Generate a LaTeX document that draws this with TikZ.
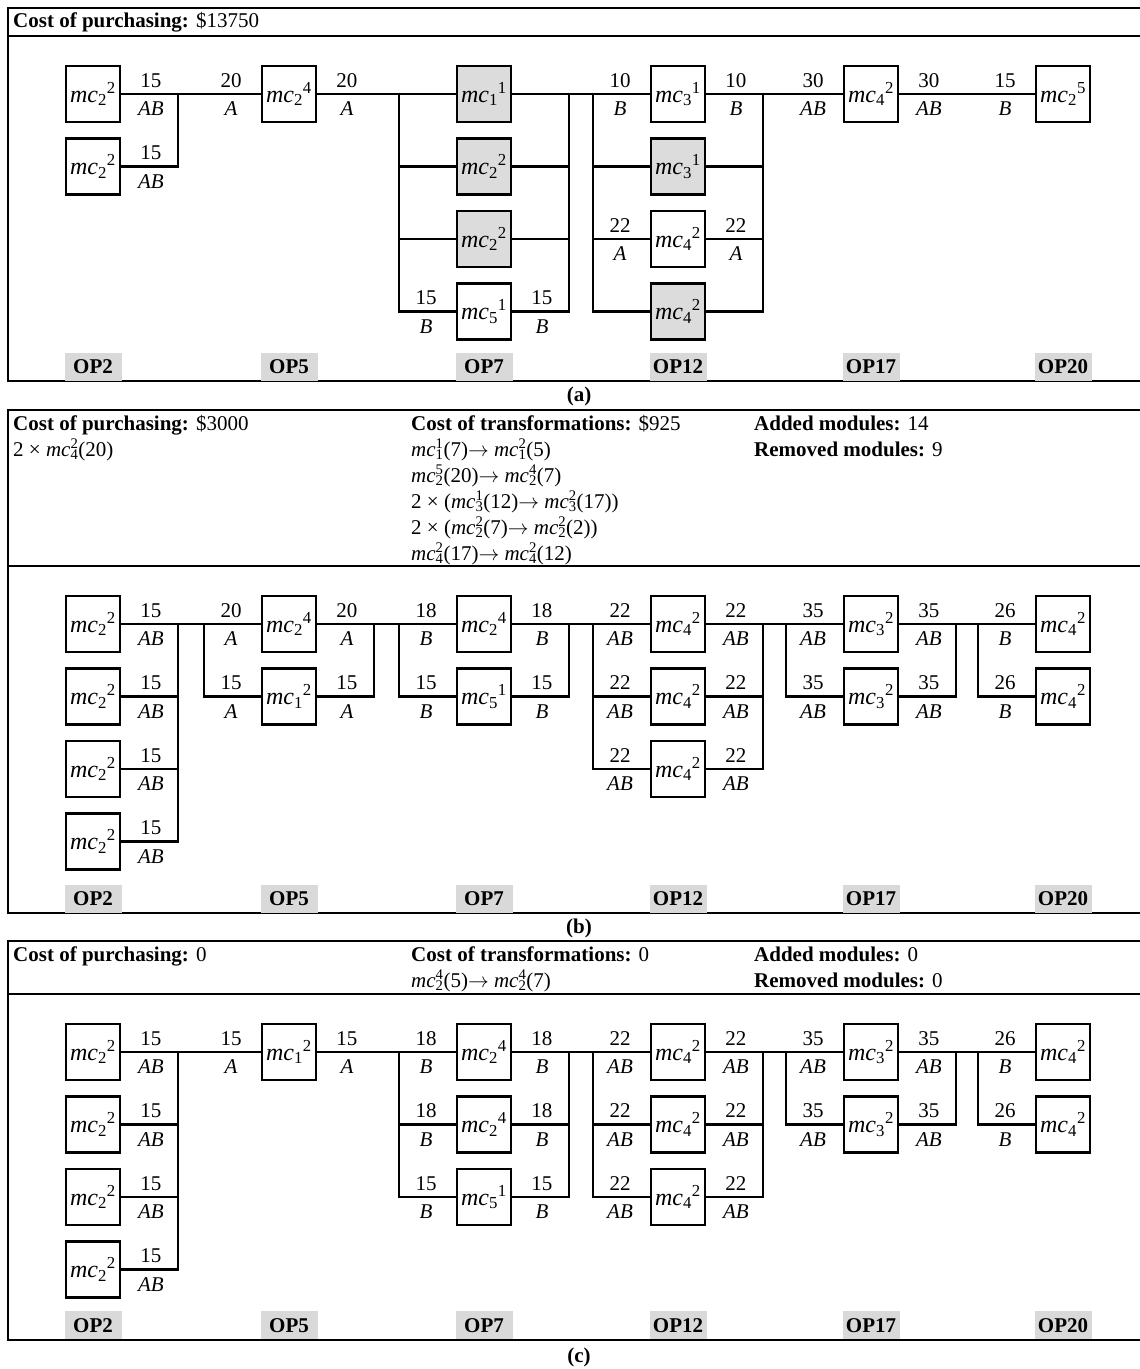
\documentclass[tikz,border=0pt]{standalone}
\usepackage{fontspec}
\setmainfont{Liberation Serif}
\usetikzlibrary{positioning}
\definecolor{changedgray}{RGB}{220,220,220}
\definecolor{opgray}{RGB}{217,217,217}
\newcommand{\txt}{\fontsize{21}{24}\selectfont}
\newcommand{\mc}[2]{\textit{mc}\textsubscript{#1}\textsuperscript{#2}}
\newcommand{\mcs}[2]{\textit{mc}\textsubscript{#1}\llap{\textsuperscript{#2}}}
\newcommand{\tto}{$\rightarrow$}
\tikzset{
  module/.style    = {draw, line width=2.9pt, fill=white, inner sep=0pt,
                      minimum width=54pt, minimum height=56pt,
                      font=\fontsize{24}{26}\selectfont},
  replaced/.style  = {module, fill=changedgray},
  wire/.style      = {line width=2.3pt},
  panelline/.style = {line width=2pt},
  oplab/.style     = {fill=opgray, anchor=south, inner sep=0pt,
                      minimum width=57pt, minimum height=28pt, font=\txt\bfseries},
  lab/.style       = {anchor=base, inner sep=0pt, font=\txt},
  lin/.style 2 args  = {label={[lab, xshift=-29.5pt, yshift=7pt]west:#1},
                        label={[lab, xshift=-29.5pt, yshift=-21.5pt]west:\textit{#2}}},
  rout/.style 2 args = {label={[lab, xshift=29.5pt, yshift=7pt]east:#1},
                        label={[lab, xshift=29.5pt, yshift=-21.5pt]east:\textit{#2}}},
  head/.style      = {anchor=base west, inner sep=0pt},
  panelcap/.style  = {font=\txt\bfseries, inner sep=0pt},
}

\begin{document}
\begin{tikzpicture}[x=1pt, y=-1pt, font=\txt]
  \useasboundingbox (0,0) rectangle (1140,1369);

  % (a) current configuration
  \draw[panelline] (8,7.5) rectangle (1160,381);
  \draw[panelline] (8,35.5) -- (1160,35.5);
  \node[head] (aBuy) at (13,27.5) {\textbf{Cost of purchasing:} \$13750};

  \node[module, rout={15}{AB}] (a2r1) at (93,94) {\mc{2}{2}};
  \node[module, rout={15}{AB}] (a2r2) at (93,166.5) {\mc{2}{2}};
  \node[module, lin={20}{A}, rout={20}{A}] (a5r1) at (289,94) {\mc{2}{4}};
  \node[replaced] (a7r1) at (484,94) {\mc{1}{1}};
  \node[replaced] (a7r2) at (484,166.5) {\mc{2}{2}};
  \node[replaced] (a7r3) at (484,239) {\mc{2}{2}};
  \node[module, lin={15}{B}, rout={15}{B}] (a7r4) at (484,311.5) {\mc{5}{1}};
  \node[module, lin={10}{B}, rout={10}{B}] (a12r1) at (678,94) {\mc{3}{1}};
  \node[replaced] (a12r2) at (678,166.5) {\mc{3}{1}};
  \node[module, lin={22}{A}, rout={22}{A}] (a12r3) at (678,239) {\mc{4}{2}};
  \node[replaced] (a12r4) at (678,311.5) {\mc{4}{2}};
  \node[module, lin={30}{AB}, rout={30}{AB}] (a17r1) at (871,94) {\mc{4}{2}};
  \node[module, lin={15}{B}] (a20r1) at (1063,94) {\mc{2}{5}};

  \coordinate (a2R) at (178,94);
  \coordinate (a7L) at (399,94);
  \coordinate (a7R) at (569,94);
  \coordinate (a12L) at (593,94);
  \coordinate (a12R) at (763,94);
  \draw[wire] (a2r1) -- (a5r1) -- (a7r1) -- (a12r1) -- (a17r1) -- (a20r1);
  \draw[wire] (a2r2) -| (a2R);
  \draw[wire] (a7L) |- (a7r4) -| (a7R);
  \draw[wire] (a7r2 -| a7L) -- (a7r2) -- (a7r2 -| a7R);
  \draw[wire] (a7r3 -| a7L) -- (a7r3) -- (a7r3 -| a7R);
  \draw[wire] (a12L) |- (a12r4) -| (a12R);
  \draw[wire] (a12r2 -| a12L) -- (a12r2) -- (a12r2 -| a12R);
  \draw[wire] (a12r3 -| a12L) -- (a12r3) -- (a12r3 -| a12R);

  \node[oplab] (aOP2) at (93,381) {OP2};
  \node[oplab] (aOP5) at (289,381) {OP5};
  \node[oplab] (aOP7) at (484,381) {OP7};
  \node[oplab] (aOP12) at (678,381) {OP12};
  \node[oplab] (aOP17) at (871,381) {OP17};
  \node[oplab] (aOP20) at (1063,381) {OP20};
  \node[panelcap] (capA) at (579,396) {(a)};

  % (b) reconfiguration
  \draw[panelline] (8,410) rectangle (1160,913);
  \draw[panelline] (8,565.5) -- (1160,565.5);
  \node[head] (bBuy) at (13,430) {\textbf{Cost of purchasing:} \$3000};
  \node[head] (bBuy1) at (13,456) {2 × \mcs{4}{2}(20)};
  \node[head] (bTr) at (411,430) {\textbf{Cost of transformations:} \$925};
  \node[head] (bTr1) at (411,456) {\mcs{1}{1}(7)\tto{} \mcs{1}{2}(5)};
  \node[head] (bTr2) at (411,482) {\mcs{2}{5}(20)\tto{} \mcs{2}{4}(7)};
  \node[head] (bTr3) at (411,508) {2 × (\mcs{3}{1}(12)\tto{} \mcs{3}{2}(17))};
  \node[head] (bTr4) at (411,534) {2 × (\mcs{2}{2}(7)\tto{} \mcs{2}{2}(2))};
  \node[head] (bTr5) at (411,560) {\mcs{4}{2}(17)\tto{} \mcs{4}{2}(12)};
  \node[head] (bAdd) at (754,430) {\textbf{Added modules:} 14};
  \node[head] (bRem) at (754,456) {\textbf{Removed modules:} 9};

  \node[module, rout={15}{AB}] (b2r1) at (93,624) {\mc{2}{2}};
  \node[module, rout={15}{AB}] (b2r2) at (93,696.5) {\mc{2}{2}};
  \node[module, rout={15}{AB}] (b2r3) at (93,769) {\mc{2}{2}};
  \node[module, rout={15}{AB}] (b2r4) at (93,841.5) {\mc{2}{2}};
  \node[module, lin={20}{A}, rout={20}{A}] (b5r1) at (289,624) {\mc{2}{4}};
  \node[module, lin={15}{A}, rout={15}{A}] (b5r2) at (289,696.5) {\mc{1}{2}};
  \node[module, lin={18}{B}, rout={18}{B}] (b7r1) at (484,624) {\mc{2}{4}};
  \node[module, lin={15}{B}, rout={15}{B}] (b7r2) at (484,696.5) {\mc{5}{1}};
  \node[module, lin={22}{AB}, rout={22}{AB}] (b12r1) at (678,624) {\mc{4}{2}};
  \node[module, lin={22}{AB}, rout={22}{AB}] (b12r2) at (678,696.5) {\mc{4}{2}};
  \node[module, lin={22}{AB}, rout={22}{AB}] (b12r3) at (678,769) {\mc{4}{2}};
  \node[module, lin={35}{AB}, rout={35}{AB}] (b17r1) at (871,624) {\mc{3}{2}};
  \node[module, lin={35}{AB}, rout={35}{AB}] (b17r2) at (871,696.5) {\mc{3}{2}};
  \node[module, lin={26}{B}] (b20r1) at (1063,624) {\mc{4}{2}};
  \node[module, lin={26}{B}] (b20r2) at (1063,696.5) {\mc{4}{2}};

  \coordinate (b2R) at (178,624);
  \coordinate (b5L) at (204,624);
  \coordinate (b5R) at (374,624);
  \coordinate (b7L) at (399,624);
  \coordinate (b7R) at (569,624);
  \coordinate (b12L) at (593,624);
  \coordinate (b12R) at (763,624);
  \coordinate (b17L) at (786,624);
  \coordinate (b17R) at (956,624);
  \coordinate (b20L) at (978,624);
  \draw[wire] (b2r1) -- (b5r1) -- (b7r1) -- (b12r1) -- (b17r1) -- (b20r1);
  \draw[wire] (b2r4) -| (b2R);
  \draw[wire] (b2r2) -- (b2r2 -| b2R);
  \draw[wire] (b2r3) -- (b2r3 -| b2R);
  \draw[wire] (b5L) |- (b5r2) -| (b5R);
  \draw[wire] (b7L) |- (b7r2) -| (b7R);
  \draw[wire] (b12L) |- (b12r3) -| (b12R);
  \draw[wire] (b12r2 -| b12L) -- (b12r2) -- (b12r2 -| b12R);
  \draw[wire] (b17L) |- (b17r2) -| (b17R);
  \draw[wire] (b20L) |- (b20r2);

  \node[oplab] (bOP2) at (93,913) {OP2};
  \node[oplab] (bOP5) at (289,913) {OP5};
  \node[oplab] (bOP7) at (484,913) {OP7};
  \node[oplab] (bOP12) at (678,913) {OP12};
  \node[oplab] (bOP17) at (871,913) {OP17};
  \node[oplab] (bOP20) at (1063,913) {OP20};
  \node[panelcap] (capB) at (579,928) {(b)};

  % (c) second reconfiguration
  \draw[panelline] (8,941) rectangle (1160,1339.5);
  \draw[panelline] (8,993.5) -- (1160,993.5);
  \node[head] (cBuy) at (13,961) {\textbf{Cost of purchasing:} 0};
  \node[head] (cTr) at (411,961) {\textbf{Cost of transformations:} 0};
  \node[head] (cTr1) at (411,987) {\mcs{2}{4}(5)\tto{} \mcs{2}{4}(7)};
  \node[head] (cAdd) at (754,961) {\textbf{Added modules:} 0};
  \node[head] (cRem) at (754,987) {\textbf{Removed modules:} 0};

  \node[module, rout={15}{AB}] (c2r1) at (93,1052) {\mc{2}{2}};
  \node[module, rout={15}{AB}] (c2r2) at (93,1124.5) {\mc{2}{2}};
  \node[module, rout={15}{AB}] (c2r3) at (93,1197) {\mc{2}{2}};
  \node[module, rout={15}{AB}] (c2r4) at (93,1269.5) {\mc{2}{2}};
  \node[module, lin={15}{A}, rout={15}{A}] (c5r1) at (289,1052) {\mc{1}{2}};
  \node[module, lin={18}{B}, rout={18}{B}] (c7r1) at (484,1052) {\mc{2}{4}};
  \node[module, lin={18}{B}, rout={18}{B}] (c7r2) at (484,1124.5) {\mc{2}{4}};
  \node[module, lin={15}{B}, rout={15}{B}] (c7r3) at (484,1197) {\mc{5}{1}};
  \node[module, lin={22}{AB}, rout={22}{AB}] (c12r1) at (678,1052) {\mc{4}{2}};
  \node[module, lin={22}{AB}, rout={22}{AB}] (c12r2) at (678,1124.5) {\mc{4}{2}};
  \node[module, lin={22}{AB}, rout={22}{AB}] (c12r3) at (678,1197) {\mc{4}{2}};
  \node[module, lin={35}{AB}, rout={35}{AB}] (c17r1) at (871,1052) {\mc{3}{2}};
  \node[module, lin={35}{AB}, rout={35}{AB}] (c17r2) at (871,1124.5) {\mc{3}{2}};
  \node[module, lin={26}{B}] (c20r1) at (1063,1052) {\mc{4}{2}};
  \node[module, lin={26}{B}] (c20r2) at (1063,1124.5) {\mc{4}{2}};

  \coordinate (c2R) at (178,1052);
  \coordinate (c7L) at (399,1052);
  \coordinate (c7R) at (569,1052);
  \coordinate (c12L) at (593,1052);
  \coordinate (c12R) at (763,1052);
  \coordinate (c17L) at (786,1052);
  \coordinate (c17R) at (956,1052);
  \coordinate (c20L) at (978,1052);
  \draw[wire] (c2r1) -- (c5r1) -- (c7r1) -- (c12r1) -- (c17r1) -- (c20r1);
  \draw[wire] (c2r4) -| (c2R);
  \draw[wire] (c2r2) -- (c2r2 -| c2R);
  \draw[wire] (c2r3) -- (c2r3 -| c2R);
  \draw[wire] (c7L) |- (c7r3) -| (c7R);
  \draw[wire] (c7r2 -| c7L) -- (c7r2) -- (c7r2 -| c7R);
  \draw[wire] (c12L) |- (c12r3) -| (c12R);
  \draw[wire] (c12r2 -| c12L) -- (c12r2) -- (c12r2 -| c12R);
  \draw[wire] (c17L) |- (c17r2) -| (c17R);
  \draw[wire] (c20L) |- (c20r2);

  \node[oplab] (cOP2) at (93,1339.5) {OP2};
  \node[oplab] (cOP5) at (289,1339.5) {OP5};
  \node[oplab] (cOP7) at (484,1339.5) {OP7};
  \node[oplab] (cOP12) at (678,1339.5) {OP12};
  \node[oplab] (cOP17) at (871,1339.5) {OP17};
  \node[oplab] (cOP20) at (1063,1339.5) {OP20};
  \node[panelcap] (capC) at (579,1357) {(c)};
\end{tikzpicture}
\end{document}
